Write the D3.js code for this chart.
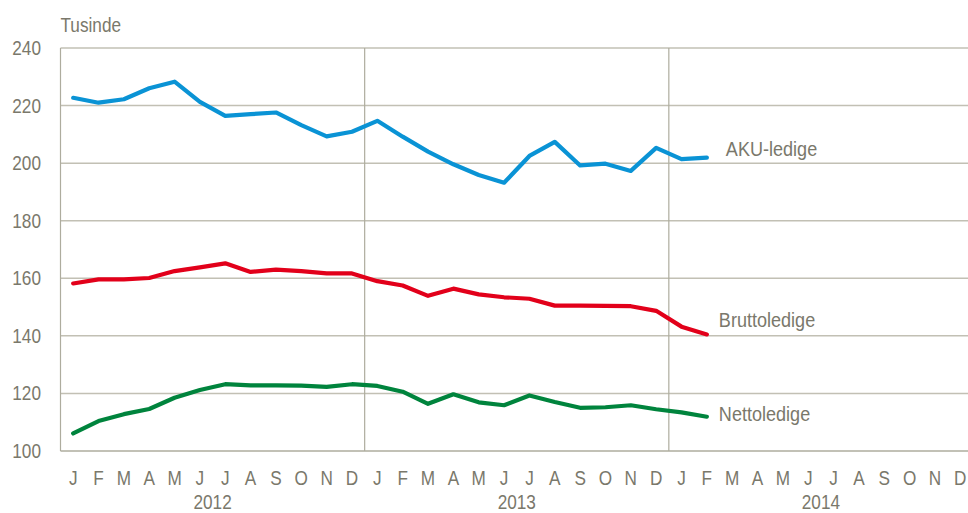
<!DOCTYPE html>
<html>
<head>
<meta charset="utf-8">
<script src="https://cdn.jsdelivr.net/npm/d3@7"></script>
<style>
  body { margin: 0; background: #fff; }
  text { font-family: "Liberation Sans", Arial, sans-serif; fill: #7a786b; }
</style>
</head>
<body>
<div id="chart"></div>
<script>
// Data
const years = ["2012", "2013", "2014"];
const monthLetters = ["J", "F", "M", "A", "M", "J", "J", "A", "S", "O", "N", "D"];
const yTicks = [100, 120, 140, 160, 180, 200, 220, 240];

const akuLedige = [222.7, 221.0, 222.2, 226.0, 228.3, 221.3, 216.4, 217.0, 217.6, 213.2, 209.3, 210.9,
  214.7, 209.2, 204.0, 199.6, 195.9, 193.2, 202.5, 207.4, 199.2, 199.8, 197.3, 205.3,
  201.4, 201.9];
const bruttoLedige = [158.2, 159.6, 159.6, 160.1, 162.5, 163.8, 165.2, 162.2, 163.0, 162.5, 161.7, 161.7,
  159.0, 157.5, 153.9, 156.4, 154.4, 153.4, 152.9, 150.5, 150.5, 150.4, 150.3, 148.7,
  143.2, 140.5];
const nettoLedige = [106.1, 110.4, 112.8, 114.6, 118.5, 121.2, 123.2, 122.8, 122.8, 122.7, 122.3, 123.2,
  122.6, 120.6, 116.4, 119.7, 116.9, 115.9, 119.3, 117.0, 115.0, 115.2, 115.9, 114.5,
  113.4, 111.9];

const series = [
  { name: "AKU-ledige", values: akuLedige, color: "#0a93d5", dx: 19, labelValue: 205.1 },
  { name: "Bruttoledige", values: bruttoLedige, color: "#e2001a", dx: 12, labelValue: 145.5 },
  { name: "Nettoledige", values: nettoLedige, color: "#00843d", dx: 12, labelValue: 113.1 }
];

// Base variables
const w = 968;
const h = 513;
const margin = { top: 48, right: -5, bottom: 62, left: 60.5 };
const nMonths = years.length * 12;
const squeeze = 0.86; // condensed look

// Scales
const xScale = d3.scaleLinear()
  .domain([0, nMonths])
  .range([margin.left, w - margin.right]);
const yScale = d3.scaleLinear()
  .domain([100, 240])
  .range([h - margin.bottom, margin.top]);
const monthX = i => xScale(i + 0.5);

const svg = d3.select("#chart")
  .append("svg")
  .attr("width", w)
  .attr("height", h);

// text helper: place at (x, y) and squeeze horizontally
function label(sel, x, y) {
  return sel
    .attr("transform", (d, i) => `translate(${x(d, i)},${y(d, i)}) scale(${squeeze},1)`);
}

// horizontal grid
svg.append("g")
  .selectAll("line")
  .data(yTicks.filter(d => d > 100))
  .join("line")
  .attr("x1", margin.left)
  .attr("x2", w)
  .attr("y1", d => yScale(d))
  .attr("y2", d => yScale(d))
  .attr("stroke", "#c2c0b4")
  .attr("stroke-width", 1.5);

// year separators
svg.append("g")
  .selectAll("line")
  .data(d3.range(1, years.length))
  .join("line")
  .attr("x1", d => xScale(d * 12))
  .attr("x2", d => xScale(d * 12))
  .attr("y1", yScale(240))
  .attr("y2", yScale(100))
  .attr("stroke", "#aeac9e")
  .attr("stroke-width", 1.2);

// axes lines
svg.append("line")
  .attr("x1", margin.left).attr("x2", margin.left)
  .attr("y1", yScale(240)).attr("y2", yScale(100))
  .attr("stroke", "#aeac9e").attr("stroke-width", 1.2);
svg.append("line")
  .attr("x1", margin.left).attr("x2", w)
  .attr("y1", yScale(100)).attr("y2", yScale(100))
  .attr("stroke", "#aeac9e").attr("stroke-width", 1.5);

// y tick labels
svg.append("g")
  .selectAll("text")
  .data(yTicks)
  .join("text")
  .call(label, () => 41, d => yScale(d))
  .attr("dy", "0.35em")
  .attr("text-anchor", "end")
  .style("font-size", "20px")
  .text(d => d);

svg.append("text")
  .datum("Tusinde")
  .call(label, () => margin.left, () => 32)
  .style("font-size", "20px")
  .text(d => d);

// month labels
svg.append("g")
  .selectAll("text")
  .data(d3.range(nMonths))
  .join("text")
  .call(label, d => monthX(d), () => 478)
  .attr("dy", "0.35em")
  .attr("text-anchor", "middle")
  .style("font-size", "20px")
  .text(d => monthLetters[d % 12]);

// year labels
svg.append("g")
  .selectAll("text")
  .data(years)
  .join("text")
  .call(label, (d, i) => xScale(i * 12 + 6), () => 502)
  .attr("dy", "0.35em")
  .attr("text-anchor", "middle")
  .style("font-size", "20px")
  .text(d => d);

// lines
const line = d3.line()
  .x((d, i) => monthX(i))
  .y(d => yScale(d));

svg.append("g")
  .selectAll("path")
  .data(series)
  .join("path")
  .attr("fill", "none")
  .attr("stroke", d => d.color)
  .attr("stroke-width", 4.2)
  .attr("stroke-linejoin", "round")
  .attr("stroke-linecap", "round")
  .attr("d", d => line(d.values));

// series labels
svg.append("g")
  .selectAll("text")
  .data(series)
  .join("text")
  .call(label, d => monthX(d.values.length - 1) + d.dx, d => yScale(d.labelValue))
  .attr("dy", "0.35em")
  .style("font-size", "21px")
  .text(d => d.name);
</script>
</body>
</html>
